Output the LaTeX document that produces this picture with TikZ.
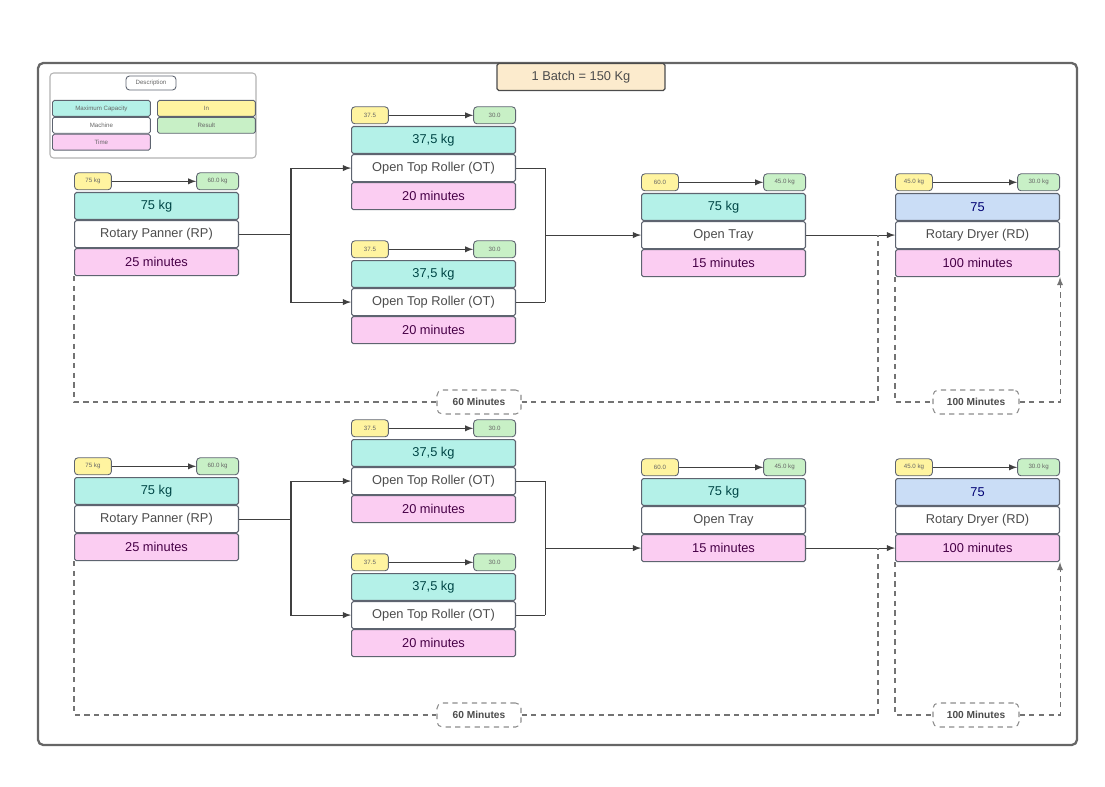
\documentclass[tikz,border=0pt]{standalone}
\usepackage{fontspec}
\setmainfont{Liberation Sans}
\usepackage{tikz}
\usetikzlibrary{positioning,calc}

\definecolor{capcol}{HTML}{B4F1E8}
\definecolor{timecol}{HTML}{FBCDF2}
\definecolor{incol}{HTML}{FFF4A0}
\definecolor{rescol}{HTML}{C8F0C6}
\definecolor{drycol}{HTML}{CADDF6}
\definecolor{edgecol}{HTML}{5E6470}
\definecolor{batchcol}{HTML}{FCEBCD}

\tikzset{
  bar/.style={draw=edgecol, line width=0.6pt, rounded corners=1pt, minimum width=3.28cm,
    minimum height=0.54cm, inner sep=0pt, font=\fontsize{7.3}{9}\selectfont},
  capbar/.style={bar, fill=capcol, text=teal!55!black},
  drybar/.style={bar, fill=drycol, text=blue!45!black},
  machbar/.style={bar, fill=white, text=black!70},
  timebar/.style={bar, fill=timecol, text=violet!55!black},
  tag/.style={draw=edgecol, line width=0.5pt, rounded corners=2pt, minimum height=0.34cm,
    inner sep=0pt, font=\fontsize{3.5}{4}\selectfont, text=black!60},
  intag/.style={tag, fill=incol, minimum width=0.74cm},
  outtag/.style={tag, fill=rescol, minimum width=0.84cm},
  legbox/.style={draw=edgecol, line width=0.5pt, rounded corners=1pt, minimum width=1.96cm,
    minimum height=0.32cm, inner sep=0pt, font=\fontsize{3.5}{4}\selectfont, text=black!60},
  flow/.style={draw=black!75, line width=0.6pt, -latex},
  span/.style={draw=black!55, line width=0.6pt, dash pattern=on 3pt off 2.5pt},
  spanbox/.style={draw=black!45, line width=0.6pt, dash pattern=on 3pt off 2.5pt,
    rounded corners=3pt, fill=white, minimum width=1.68cm, minimum height=0.48cm,
    font=\bfseries\fontsize{5.8}{7}\selectfont, text=black!70},
}

% capacity, machine and time bars with the in/result tags on top
\newcommand{\procblock}[9][capbar]{%
  \node[#1, anchor=north west] (#2-cap) at (#3,#4) {#5};
  \node[machbar, below=0pt of #2-cap] (#2-mach) {#6};
  \node[timebar, below=0pt of #2-mach] (#2-time) {#7};
  \node[intag, anchor=south west] (#2-in) at ([yshift=1pt]#2-cap.north west) {#8};
  \node[outtag, anchor=south east] (#2-out) at ([yshift=1pt]#2-cap.north east) {#9};
  \draw[flow] (#2-in) -- (#2-out);
}

\begin{document}
\begin{tikzpicture}[x=0.02cm, y=-0.02cm]
\useasboundingbox (0,0) rectangle (1105,787);

% outer frame
\draw[draw=black!60, line width=1.3pt, rounded corners=3pt] (38,63) rectangle (1077,745);
\node[draw=black!70, line width=0.7pt, fill=batchcol, rounded corners=1pt, minimum width=3.36cm,
  minimum height=0.54cm, font=\fontsize{7.3}{9}\selectfont, text=black!70] (batch) at (581,77) {1 Batch = 150 Kg};

% legend
\node[draw=black!30, line width=0.6pt, rounded corners=2pt, minimum width=4.12cm,
  minimum height=1.7cm] (legend) at (153,115.5) {};
\node[legbox, fill=white, minimum width=1cm, minimum height=0.28cm, rounded corners=2pt] (legtitle) at (151,83) {Description};
\node[legbox, fill=capcol, anchor=north west] (legcap) at (52,100) {Maximum Capacity};
\node[legbox, fill=white, below=0pt of legcap] (legmach) {Machine};
\node[legbox, fill=timecol, below=0pt of legmach] (legtime) {Time};
\node[legbox, fill=incol, anchor=north west] (legin) at (157,100) {In};
\node[legbox, fill=rescol, below=0pt of legin] (legres) {Result};

\foreach \r/\dy/\dz in {A/0/0, B/285/313}{
  \procblock{rp\r}{74}{192+\dy}{75 kg}{Rotary Panner (RP)}{25 minutes}{75 kg}{60.0 kg}
  \procblock{ot\r1}{351}{126+\dz}{37,5 kg}{Open Top Roller (OT)}{20 minutes}{37.5}{30.0}
  \procblock{ot\r2}{351}{260+\dz}{37,5 kg}{Open Top Roller (OT)}{20 minutes}{37.5}{30.0}
  \procblock{tray\r}{641}{193+\dy}{75 kg}{Open Tray}{15 minutes}{60.0}{45.0 kg}
  \procblock[drybar]{dry\r}{895}{193+\dy}{75}{Rotary Dryer (RD)}{100 minutes}{45.0 kg}{30.0 kg}

  % split to the two rollers
  \draw[draw=black!75, line width=0.6pt] (rp\r-mach.east) -- ++(52,0) coordinate (split\r);
  \draw[flow] (split\r) |- (ot\r1-mach.west);
  \draw[flow] (split\r) |- (ot\r2-mach.west);
  % join into the tray
  \draw[draw=black!75, line width=0.6pt] (ot\r1-mach.east) -- ++(29,0) coordinate (ja\r);
  \draw[draw=black!75, line width=0.6pt] (ot\r2-mach.east) -- ++(29,0) coordinate (jb\r);
  \draw[draw=black!75, line width=0.6pt] (ja\r) -- (jb\r);
  \coordinate (join\r) at ($(ja\r)!.5!(jb\r)$);
  \draw[flow] (join\r) -- (join\r -| tray\r-mach.west);
  \draw[flow] (join\r -| tray\r-mach.east) -- (join\r -| dry\r-mach.west);

  % time spans
  \node[spanbox] (sixty\r) at (479,402+\dz) {60 Minutes};
  \node[spanbox, minimum width=1.72cm] (hundred\r) at (976,402+\dz) {100 Minutes};
  \coordinate (dash\r) at ($(join\r -| dry\r-mach.west)+(-17,0)$);
  \draw[span] (rp\r-time.south west) |- (sixty\r);
  \draw[span] (sixty\r) -| (dash\r);
  \draw[span] (dry\r-time.south west) |- (hundred\r);
  \draw[span, -latex] (hundred\r) -| (dry\r-time.south east);
}
\end{tikzpicture}
\end{document}
